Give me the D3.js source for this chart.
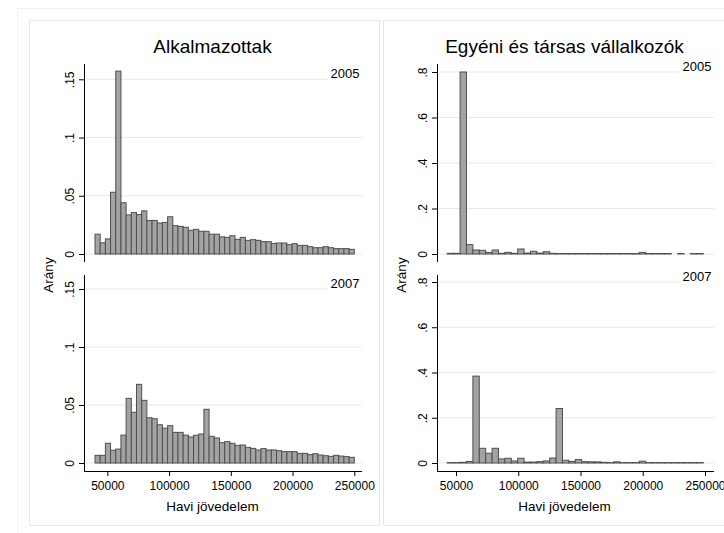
<!DOCTYPE html>
<html>
<head>
<meta charset="utf-8">
<title>Havi jövedelem hisztogramok</title>
<style>
  body { margin: 0; background: #fff; }
  svg { display: block; font-family: "Liberation Sans", Arial, sans-serif; }
</style>
</head>
<body>
<svg width="724" height="533"></svg>
<script src="https://d3js.org/d3.v7.min.js"></script>
<script>
var panelTitles = ["Alkalmazottak", "Egyéni és társas vállalkozók"];
var yearLabels = ["2005", "2007"];

// Alkalmazottak: 50 bins from 40000, width 4200
var alkBinStart = 40000, alkBinWidth = 4200;
var alk2005 = [0.017,0.0096,0.013,0.053,0.157,0.044,0.0336,0.0356,0.0339,0.037,
  0.0288,0.0288,0.0266,0.0271,0.032,0.0243,0.0237,0.0229,0.0203,0.0212,
  0.0195,0.0195,0.017,0.017,0.0147,0.0143,0.0157,0.0126,0.0143,0.0117,
  0.0123,0.0117,0.0106,0.0106,0.0091,0.0094,0.0094,0.008,0.0089,0.0074,
  0.0074,0.0063,0.0054,0.0054,0.0063,0.0054,0.0046,0.0046,0.0046,0.004];
var alk2007 = [0.0066,0.0066,0.017,0.011,0.012,0.024,0.0557,0.0437,0.0678,0.054,
  0.039,0.0382,0.033,0.030,0.0322,0.0264,0.0264,0.024,0.0224,0.0239,
  0.025,0.0463,0.023,0.0216,0.0175,0.0184,0.017,0.0152,0.0155,0.0135,
  0.0126,0.0112,0.0124,0.0112,0.0112,0.0106,0.0098,0.0098,0.0098,0.0083,
  0.0083,0.0072,0.008,0.0069,0.0063,0.0057,0.0066,0.006,0.0055,0.0049];

// Egyéni és társas vállalkozók: 40 bins from 43000, width 5140
var valBinStart = 43000, valBinWidth = 5140;
var val2005 = [0.003,0.003,0.80,0.041,0.0176,0.016,0.007,0.0176,0.003,0.007,
  0.003,0.022,0.004,0.012,0.004,0.01,0.003,0.002,0.002,0.002,
  0.002,0.002,0.002,0.002,0.002,0.002,0.002,0.002,0.002,0.002,
  0.007,0.002,0.002,0.002,0.002,0,0.002,0,0.002,0.002];
var val2007 = [0.002,0.002,0.003,0.007,0.384,0.065,0.043,0.065,0.018,0.021,
  0.009,0.021,0.004,0.004,0.006,0.009,0.022,0.241,0.012,0.007,
  0.015,0.006,0.005,0.005,0.003,0.002,0.005,0.002,0.002,0.002,
  0.008,0.002,0.002,0.002,0.002,0.002,0.002,0.002,0.002,0.002];

var alkYTicks = [0, 0.05, 0.1, 0.15];
var valYTicks = [0, 0.2, 0.4, 0.6, 0.8];
var xTicks = [50000, 100000, 150000, 200000, 250000];

var xTitle = "Havi jövedelem", yTitle = "Arány";

var svg = d3.select("svg");

// stata style: ".15", ".1", "0"
function stataFmt(d) { return d === 0 ? "0" : String(+d.toFixed(3)).replace(/^0/, ""); }

// outer frame and panel frames
svg.append("rect").attr("x", 17.5).attr("y", 8.5).attr("width", 730).attr("height", 540)
  .attr("fill", "none").attr("stroke", "#f0f0f0");
svg.append("rect").attr("x", 29.5).attr("y", 20.5).attr("width", 350).attr("height", 505)
  .attr("fill", "none").attr("stroke", "#e8e8e8");
svg.append("rect").attr("x", 383.5).attr("y", 20.5).attr("width", 360).attr("height", 505)
  .attr("fill", "none").attr("stroke", "#e8e8e8");

var panels = [
  { title: panelTitles[0], titleX: 212.5, axisX: 84, plotRight: 362,
    x: d3.scaleLinear().domain([40000, 250000]).range([95, 354.3]),
    binStart: alkBinStart, binWidth: alkBinWidth, yTicks: alkYTicks,
    rows: [
      { label: yearLabels[0], values: alk2005, top: 64, bottom: 262,
        y: d3.scaleLinear().domain([0, 0.15]).range([254, 79.3]) },
      { label: yearLabels[1], values: alk2007, top: 275, bottom: 471,
        y: d3.scaleLinear().domain([0, 0.15]).range([463, 289]) }
    ] },
  { title: panelTitles[1], titleX: 564.5, axisX: 437, plotRight: 714,
    x: d3.scaleLinear().domain([50000, 250000]).range([456, 705]),
    binStart: valBinStart, binWidth: valBinWidth, yTicks: valYTicks,
    rows: [
      { label: yearLabels[0], values: val2005, top: 64, bottom: 262,
        y: d3.scaleLinear().domain([0, 0.8]).range([254, 72]) },
      { label: yearLabels[1], values: val2007, top: 275, bottom: 471,
        y: d3.scaleLinear().domain([0, 0.8]).range([463, 282]) }
    ] }
];

panels.forEach(function(p) {
  var g = svg.append("g");

  g.append("text").attr("x", p.titleX).attr("y", 53)
    .attr("text-anchor", "middle").style("font-size", "19px").text(p.title);

  p.rows.forEach(function(r, ri) {
    // gridlines
    g.selectAll(null).data(p.yTicks).enter().append("line")
      .attr("x1", p.axisX).attr("x2", p.plotRight)
      .attr("y1", d => r.y(d)).attr("y2", d => r.y(d))
      .attr("stroke", "#e8e8e8").attr("stroke-width", 1);

    // year label, white box breaks the top gridline
    var lab = g.append("text").attr("x", p.plotRight - 2.5).attr("y", r.y(p.yTicks[p.yTicks.length - 1]) - 1.5)
      .attr("text-anchor", "end").style("font-size", "13px").text(r.label);
    var bb = lab.node().getBBox();
    g.insert("rect", function() { return lab.node(); })
      .attr("x", bb.x - 3).attr("y", bb.y).attr("width", p.plotRight - bb.x + 3).attr("height", bb.height + 2)
      .attr("fill", "#fff");

    // bars (empty bins are left out)
    var bars = r.values.map(function(v, i) {
      return { v: v, x0: p.binStart + i * p.binWidth, x1: p.binStart + (i + 1) * p.binWidth };
    }).filter(d => d.v > 0);
    g.selectAll(null).data(bars).enter().append("rect")
      .attr("x", d => p.x(d.x0))
      .attr("width", d => p.x(d.x1) - p.x(d.x0))
      .attr("y", d => r.y(d.v))
      .attr("height", d => r.y(0) - r.y(d.v))
      .attr("fill", "#a3a3a3").attr("stroke", "#505050").attr("stroke-width", 1);

    // y axis
    var ya = g.append("g").attr("transform", "translate(" + p.axisX + ",0)")
      .call(d3.axisLeft(r.y).tickValues(p.yTicks).tickSize(5).tickFormat(stataFmt));
    ya.select(".domain").remove();
    ya.selectAll(".tick line").attr("stroke", "#000");
    ya.selectAll(".tick text")
      .attr("transform", "rotate(-90)").attr("x", 0).attr("y", -10).attr("dy", 0)
      .attr("text-anchor", "middle").attr("fill", "#000")
      .style("font-size", "12px").style("font-family", "Liberation Sans, Arial, sans-serif");
    g.append("line").attr("x1", p.axisX + 0.5).attr("x2", p.axisX + 0.5)
      .attr("y1", r.top).attr("y2", r.bottom).attr("stroke", "#000");

    // x axis on the bottom row only
    if (ri === p.rows.length - 1) {
      var xa = g.append("g").attr("transform", "translate(0," + r.bottom + ")")
        .call(d3.axisBottom(p.x).tickValues(xTicks).tickSize(5).tickFormat(d3.format("d")));
      xa.select(".domain").remove();
      xa.selectAll(".tick line").attr("stroke", "#000");
      xa.selectAll(".tick text").attr("y", 19).attr("dy", 0).attr("fill", "#000")
        .style("font-size", "12px").style("font-family", "Liberation Sans, Arial, sans-serif");
      g.append("line").attr("x1", p.axisX).attr("x2", p.plotRight)
        .attr("y1", r.bottom + 0.5).attr("y2", r.bottom + 0.5).attr("stroke", "#000");
    }
  });

  g.append("text").attr("x", p.titleX).attr("y", 511)
    .attr("text-anchor", "middle").style("font-size", "13.5px").text(xTitle);
  g.append("text").attr("transform", "translate(" + (p.axisX - 31) + ",275) rotate(-90)")
    .attr("text-anchor", "middle").style("font-size", "13.5px").text(yTitle);
});
</script>
</body>
</html>
